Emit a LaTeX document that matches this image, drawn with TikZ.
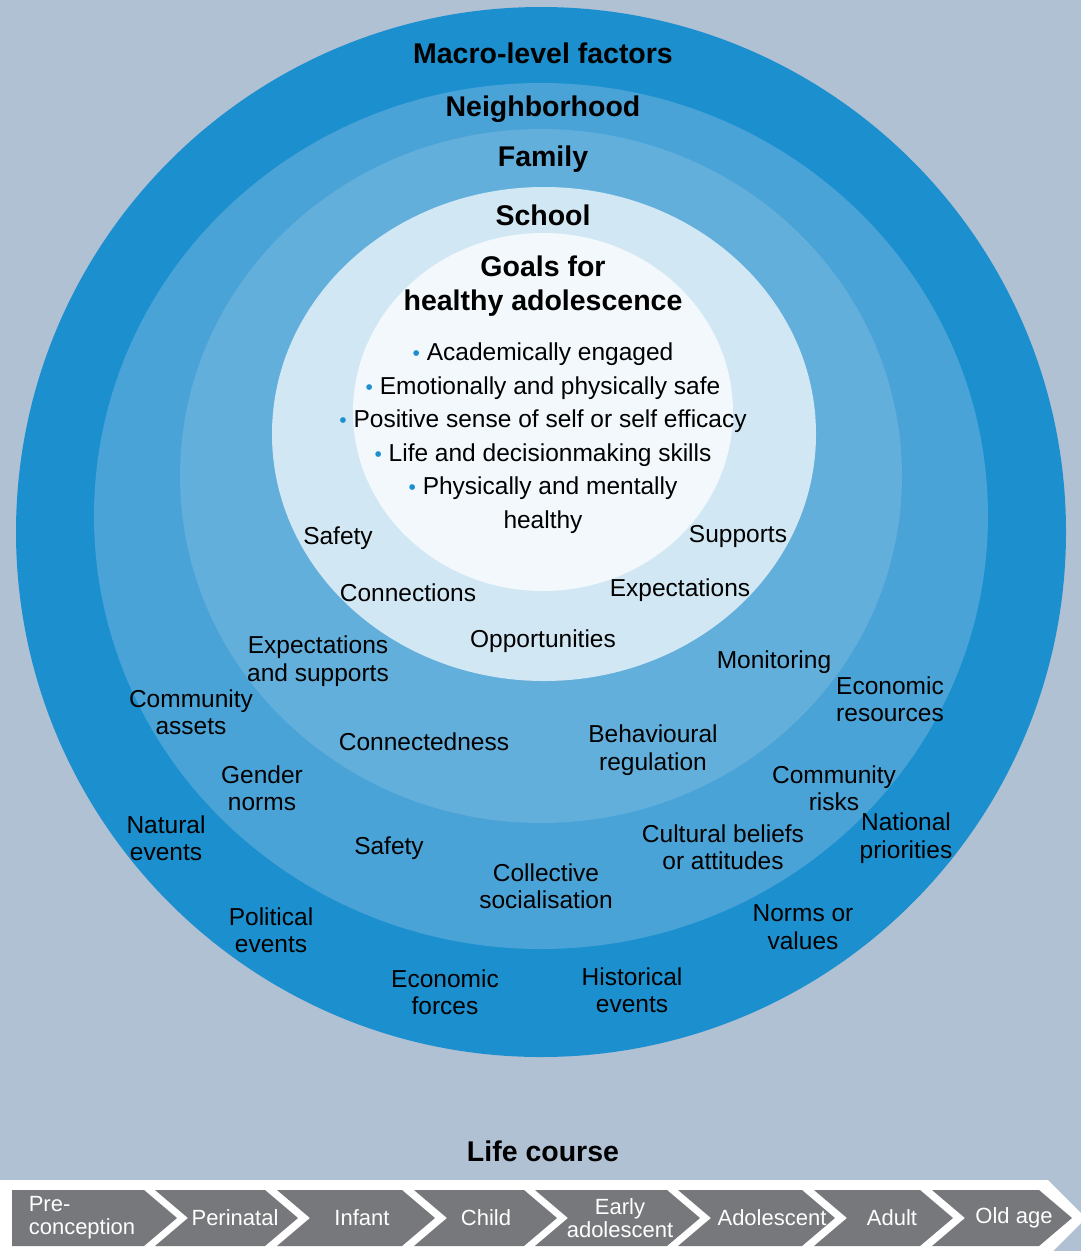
\documentclass[tikz,border=0pt]{standalone}
\usepackage{fontspec}
\setmainfont{Liberation Sans}
\definecolor{bgblue}{HTML}{B1C1D4}
\definecolor{macroblue}{HTML}{1C8FCE}
\definecolor{neighblue}{HTML}{4AA3D7}
\definecolor{familyblue}{HTML}{62AFDC}
\definecolor{schoolblue}{HTML}{D2E7F4}
\definecolor{goalsblue}{HTML}{F2F8FC}
\definecolor{stagegray}{HTML}{77787B}
\newcommand{\dotb}{{\color{macroblue}\fontsize{21}{21}\selectfont •}~}
\tikzset{
	ring/.style={font=\fontsize{24.5}{27.5}\selectfont, align=center, inner sep=0pt},
	head/.style={font=\bfseries\fontsize{28.5}{34}\selectfont, align=center, inner sep=0pt},
	stagetext/.style={white, font=\fontsize{22}{23}\selectfont, inner sep=0pt}
}
\begin{document}
\begin{tikzpicture}[x=1pt,y=-1pt]
				\useasboundingbox (0,0) rectangle (1081,1251);
				\fill[bgblue] (0,0) rectangle (1081,1251);
				% rings
				\fill[macroblue] (541,532) ellipse [x radius=525pt, y radius=525pt];
				\fill[neighblue] (541,516) ellipse [x radius=447pt, y radius=433pt];
				\fill[familyblue] (541,476) ellipse [x radius=361pt, y radius=347pt];
				\fill[schoolblue] (544,434) ellipse [x radius=272pt, y radius=247pt];
				\fill[goalsblue] (543,412) ellipse [x radius=190pt, y radius=179pt];
				\node[head] (macro) at (543,53) {Macro-level factors};
				\node[head] (neigh) at (543,109) {Neighborhood};
				\node[head] (family) at (543,159) {Family};
				\node[head] (school) at (543,215) {School};
				\node[head] (goals) at (543,286) {Goals for\\healthy adolescence};
				\node[ring, font=\fontsize{24.5}{33.5}\selectfont] (goallist) at (543,438) {\dotb Academically engaged\\ \dotb Emotionally and physically safe\\ \dotb Positive sense of self or self efficacy\\ \dotb Life and decisionmaking skills\\ \dotb Physically and mentally\\ healthy};
				% school
				\node[ring] (s-safety) at (338,538) {Safety};
				\node[ring] (s-supports) at (738,536) {Supports};
				\node[ring] (s-conn) at (408,593) {Connections};
				\node[ring] (s-expect) at (680,590) {Expectations};
				\node[ring] (s-opp) at (543,641) {Opportunities};
				% family
				\node[ring] (f-expect) at (318,661) {Expectations\\and supports};
				\node[ring] (f-monitor) at (774,662) {Monitoring};
				\node[ring] (f-conn) at (424,742) {Connectedness};
				\node[ring] (f-behav) at (653,750) {Behavioural\\regulation};
				% neighborhood
				\node[ring] (n-assets) at (191,712) {Community\\assets};
				\node[ring] (n-gender) at (262,788) {Gender\\norms};
				\node[ring] (n-safety) at (389,848) {Safety};
				\node[ring] (n-social) at (546,886) {Collective\\socialisation};
				\node[ring] (n-culture) at (723,847) {Cultural beliefs\\or attitudes};
				\node[ring] (n-risks) at (834,788) {Community\\risks};
				% macro
				\node[ring] (m-econres) at (890,699) {Economic\\resources};
				\node[ring] (m-natpri) at (906,838) {National\\priorities};
				\node[ring] (m-norms) at (803,927) {Norms or\\values};
				\node[ring] (m-hist) at (632,990) {Historical\\events};
				\node[ring] (m-econ) at (445,992) {Economic\\forces};
				\node[ring] (m-pol) at (271,930) {Political\\events};
				\node[ring] (m-nat) at (166,838) {Natural\\events};
				% life course
				\node[head] (life) at (543,1151) {Life course};
				\fill[white] (0,1180)--(1048,1180)--(1086,1218)--(1048,1256)--(0,1256)--cycle;
				\foreach \l/\r/\d/\tx/\al/\txt [count=\i] in {12/144/0/82/left/{Pre-\\conception},155/265/33/235/center/Perinatal,277/402/33/362/center/Infant,414/524/33/486/center/Child,535/667/33/620/center/{Early\\adolescent},678/802/33/772/center/Adolescent,814/920/33/892/center/Adult,932/1039/33/1014/center/Old age}{
					\fill[stagegray] (\l,1190)--(\r,1190)--(\r+33,1218)--(\r,1246)--(\l,1246)--(\l+\d,1218)--cycle;
					\node[stagetext, align=\al] (stage-\i) at (\tx,1218) {\txt};
				}
			\end{tikzpicture}
\end{document}
